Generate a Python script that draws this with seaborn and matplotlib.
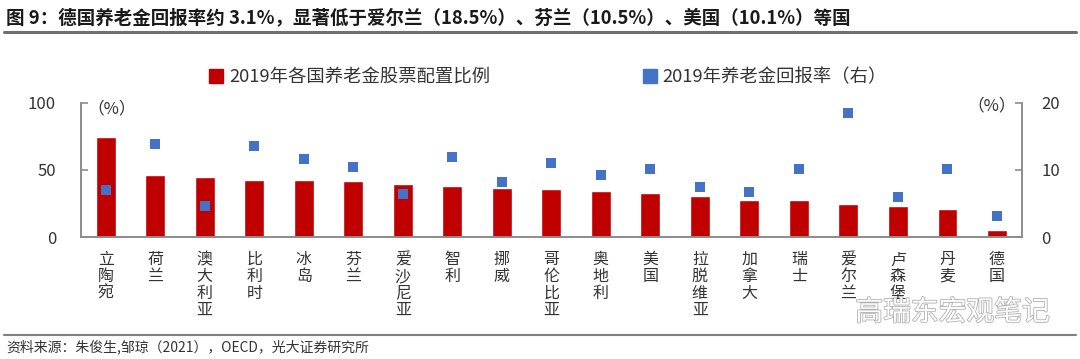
import numpy as np
import pandas as pd
import matplotlib
matplotlib.use("Agg")
import matplotlib.pyplot as plt
import seaborn as sns
from matplotlib.lines import Line2D
import matplotlib.patheffects as pe

countries = ["立陶宛", "荷兰", "澳大利亚", "比利时", "冰岛", "芬兰", "爱沙尼亚", "智利", "挪威",
             "哥伦比亚", "奥地利", "美国", "拉脱维亚", "加拿大", "瑞士", "爱尔兰", "卢森堡", "丹麦", "德国"]
equity_share = [74.7, 46.0, 45.0, 42.6, 42.6, 42.0, 39.8, 37.9, 36.4,
                35.9, 34.2, 33.1, 30.5, 27.9, 27.7, 25.0, 23.0, 21.3, 5.6]
pension_return = [7.0, 13.8, 4.6, 13.5, 11.6, 10.5, 6.5, 12.0, 8.2,
                  11.1, 9.2, 10.1, 7.4, 6.7, 10.2, 18.5, 6.0, 10.1, 3.1]
left_ticks = [0, 50, 100]
right_ticks = [0, 10, 20]

bar_label = "2019年各国养老金股票配置比例"
dot_label = "2019年养老金回报率（右）"
title = "图 9：德国养老金回报率约 3.1%，显著低于爱尔兰（18.5%）、芬兰（10.5%）、美国（10.1%）等国"
source = "资料来源：朱俊生,邹琼（2021），OECD，光大证券研究所"
watermark = "高瑞东宏观笔记"

sns.set_theme(style="white")
plt.rcParams['font.family'] = ['Noto Sans CJK SC', 'DejaVu Sans']

RED = "#C00000"
BLUE = "#4472C4"
SPINE = "#8C8C8C"
TXT = "#333333"

df = pd.DataFrame({"country": countries, "equity": equity_share, "ret": pension_return})

fig = plt.figure(figsize=(10.8, 3.59), dpi=100)
ax = fig.add_axes([0.075, 0.339, 0.871, 0.375])

sns.barplot(data=df, x="country", y="equity", color=RED, saturation=1, width=0.40, ax=ax)
ax2 = ax.twinx()
sns.stripplot(data=df, x="country", y="ret", color=BLUE, marker="s", size=7.5, jitter=False,
              linewidth=0, ax=ax2, zorder=5)

n = len(countries)
ax.set_xlim(-0.5, n - 0.5)
ax.set_ylim(0, 100)
ax2.set_ylim(0, 20)
ax.set_yticks(left_ticks)
ax2.set_yticks(right_ticks)
ax.set_yticklabels([str(t) for t in left_ticks], fontsize=12, color=TXT)
ax2.set_yticklabels([str(t) for t in right_ticks], fontsize=12, color=TXT)
ax.set_xticks(range(n))
ax.set_xticklabels(["\n".join(c) for c in countries], fontsize=11.5, color=TXT,
                   linespacing=0.98, va="top")
ax.set_xlabel("")
ax.set_ylabel("")
ax2.set_xlabel("")
ax2.set_ylabel("")

for a in (ax, ax2):
    for s in a.spines.values():
        s.set_color(SPINE)
        s.set_linewidth(1.2)
    a.spines["top"].set_visible(False)
    a.grid(False)

ax.tick_params(axis="y", direction="in", length=5, width=1.2, color=SPINE, pad=18)
ax2.tick_params(axis="y", direction="in", length=5, width=1.2, color=SPINE, pad=14)
ax.tick_params(axis="x", length=0, pad=10)
ax2.tick_params(axis="x", length=0)

ax.text(0.007, 0.95, "（%）", transform=ax.transAxes, ha="left", va="center",
        fontsize=12, color=TXT)
ax2.text(0.994, 0.975, "（%）", transform=ax.transAxes, ha="right", va="center",
         fontsize=12, color=TXT)

handles = [Line2D([], [], marker="s", color=RED, linestyle="none", markersize=10),
           Line2D([], [], marker="s", color=BLUE, linestyle="none", markersize=10)]
fig.legend(handles, [bar_label, dot_label], loc="center", bbox_to_anchor=(0.5075, 0.785),
           ncol=2, frameon=False, fontsize=13.2, handlelength=0.8, handletextpad=0.3,
           columnspacing=8.3, labelcolor=TXT)

fig.text(0.006, 0.95, title, fontsize=13.3, fontweight="bold", color="#1a1a1a",
         ha="left", va="center")
fig.add_artist(Line2D([0.004, 0.996], [0.91, 0.91], transform=fig.transFigure,
                      color="#707070", linewidth=2.2))
fig.add_artist(Line2D([0.004, 0.996], [0.067, 0.067], transform=fig.transFigure,
                      color="#808080", linewidth=1.5))
fig.text(0.006, 0.035, source, fontsize=10, color=TXT, ha="left", va="center")

fig.text(0.792, 0.13, watermark, fontsize=20, color="white", ha="left", va="center",
         path_effects=[pe.withStroke(linewidth=1.2, foreground="#b0b0b0")], zorder=10)

fig.savefig("out.png", dpi=100)
